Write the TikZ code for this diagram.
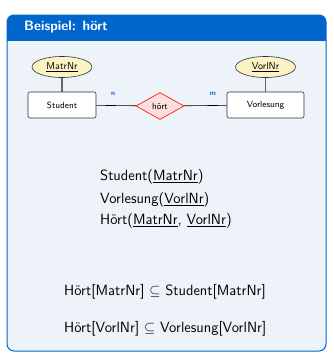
\documentclass[tikz,border=0pt]{standalone}
\usepackage{fontspec}
\usetikzlibrary{shapes.geometric}
\definecolor{blockblue}{RGB}{0,102,204}
\definecolor{blockbody}{RGB}{238,243,250}
\definecolor{attrfill}{RGB}{252,243,196}
\definecolor{relfill}{RGB}{255,222,222}
\definecolor{entdraw}{RGB}{40,48,64}
\definecolor{cardblue}{RGB}{0,90,200}
\tikzset{
  entity/.style={draw=entdraw, fill=white, rounded corners=2pt, minimum width=68pt, minimum height=26pt, font=\sffamily\fontsize{9}{10}\selectfont, line width=0.6pt},
  attr/.style={ellipse, draw=entdraw, fill=attrfill, minimum width=60pt, minimum height=21pt, inner sep=0pt, font=\sffamily\fontsize{10}{11}\selectfont, line width=0.6pt},
  rel/.style={diamond, draw=red, fill=relfill, minimum width=48pt, minimum height=27pt, inner sep=0pt, aspect=1.8, font=\sffamily\fontsize{9}{10}\selectfont, line width=0.6pt},
  card/.style={font=\sffamily\bfseries\fontsize{7}{8}\selectfont, text=cardblue, inner sep=0pt},
  attrline/.style={draw=gray!80!black, line width=1.2pt},
  relline/.style={draw=black, line width=0.6pt},
  bodytext/.style={font=\sffamily\fontsize{14.8}{17}\selectfont, anchor=west, inner sep=0pt},
}
\begin{document}
\begin{tikzpicture}[x=1pt,y=-1pt]
\useasboundingbox (0,0) rectangle (333,359);
% block
\fill[blockbody, draw=blockblue, line width=1pt, rounded corners=7pt] (7,15) rectangle (326,351);
\fill[blockblue, rounded corners=7pt] (7,15) rectangle (326,30);
\fill[blockblue] (7,24) rectangle (326,41);
\node[anchor=west, text=white, font=\sffamily\bfseries\fontsize{13.6}{16}\selectfont, inner sep=0pt] (title) at (24,27.5) {Beispiel: hört};
% ER diagram
\node[entity] (student) at (62,105) {Student};
\node[entity, minimum width=77pt] (vorl) at (265.5,105) {Vorlesung};
\node[attr] (matr) at (62,67) {\underline{MatrNr}};
\node[attr] (vnr) at (265.5,67) {\underline{VorlNr}};
\node[rel] (hoert) at (160,106) {hört};
\draw[attrline] (matr) -- (student);
\draw[attrline] (vnr) -- (vorl);
\draw[relline] (student) -- (hoert);
\draw[relline] (hoert) -- (vorl);
\node[card] (n) at (113,93.5) {n};
\node[card] (m) at (213,93.5) {m};
% relations
\node[bodytext] (r1) at (100,177) {Student(\underline{MatrNr})};
\node[bodytext] (r2) at (100,199.5) {Vorlesung(\underline{VorlNr})};
\node[bodytext] (r3) at (100,221) {Hört(\underline{MatrNr}, \underline{VorlNr})};
\node[bodytext] (i1) at (64,292) {Hört[MatrNr] $\subseteq$ Student[MatrNr]};
\node[bodytext] (i2) at (64,329) {Hört[VorlNr] $\subseteq$ Vorlesung[VorlNr]};
\end{tikzpicture}
\end{document}
